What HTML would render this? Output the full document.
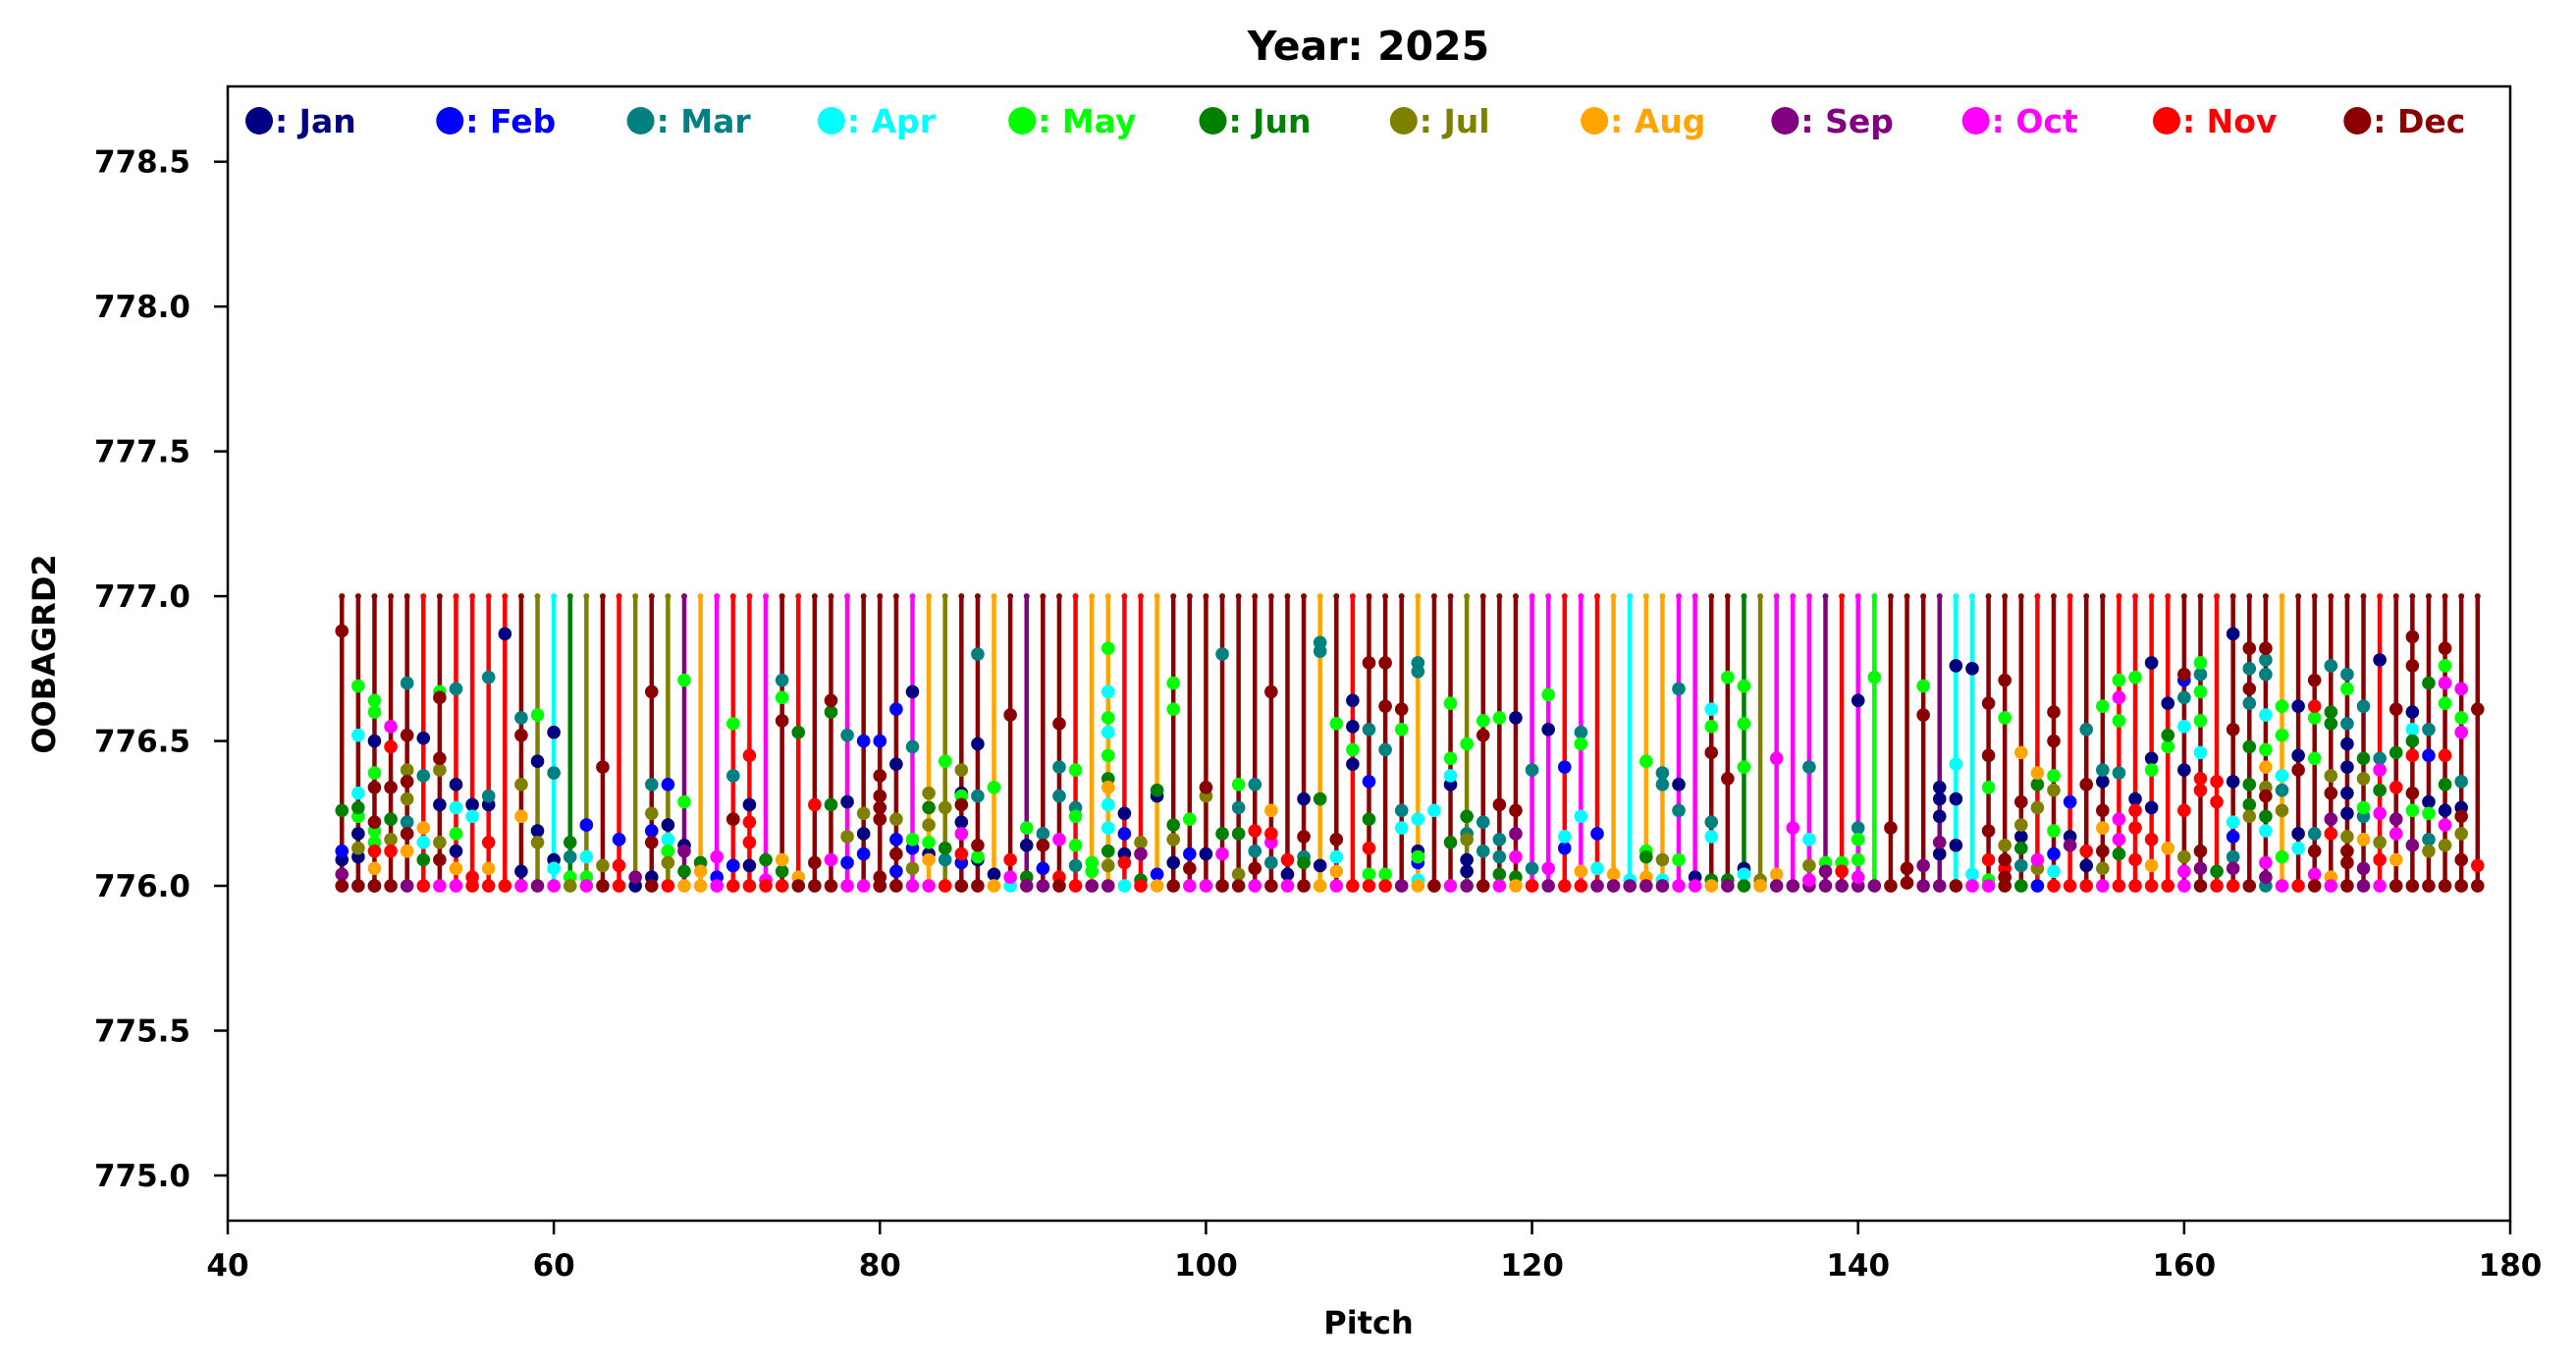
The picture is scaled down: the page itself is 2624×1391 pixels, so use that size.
<!DOCTYPE html>
<html><head><meta charset="utf-8">
<style>
html,body{margin:0;padding:0;background:#fff;}
svg{display:block;font-family:"DejaVu Sans","Liberation Sans",sans-serif;font-weight:bold;}
</style></head>
<body>
<svg id="chart" width="2624" height="1391" viewBox="0 0 2624 1391" xmlns="http://www.w3.org/2000/svg">
<rect width="2624" height="1391" fill="#fff"/>
<text x="1394" y="61" font-size="41" text-anchor="middle" fill="#000">Year: 2025</text>
<text x="1394" y="1358" font-size="32" text-anchor="middle" fill="#000">Pitch</text>
<text transform="translate(56,666) rotate(-90)" font-size="32" text-anchor="middle" fill="#000">OOBAGRD2</text>
<g id="plot"></g>
<g id="axes"></g>
<g id="legend"></g>
</svg>
<script>
const monthNames = ["Jan","Feb","Mar","Apr","May","Jun","Jul","Aug","Sep","Oct","Nov","Dec"];
const monthColors = ["#000080","#0000ff","#008080","#00ffff","#00ff00","#008000","#808000","#ffa500","#800080","#ff00ff","#ff0000","#8b0000"];
const monthCodes = "abcdefghijkl";
const xTicks = [40,60,80,100,120,140,160,180];
const yTicks = [775.0,775.5,776.0,776.5,777.0,777.5,778.0,778.5];
const yTickLabels = ["775.0","775.5","776.0","776.5","777.0","777.5","778.0","778.5"];
const stemLow = 776;
const stemHigh = 777;
const valueBase = 776;
const stemPitch = [47,48,49,50,51,52,53,54,55,56,57,58,59,60,61,62,63,64,65,66,67,68,69,70,71,72,73,74,75,76,77,78,79,
80,81,82,83,84,85,86,87,88,89,90,91,92,93,94,95,96,97,98,99,100,101,102,103,104,105,106,107,108,109,110,111,112,
113,114,115,116,117,118,119,120,121,122,123,124,125,126,127,128,129,130,131,132,133,134,135,136,137,138,139,140,141,142,143,144,145,
146,147,148,149,150,151,152,153,154,155,156,157,158,159,160,161,162,163,164,165,166,167,168,169,170,171,172,173,174,175,176,177,178];
const stemMonth = ("lllllklkkkklgdfglkglgihjkkjlklljl"+"lljhgllhlillkhhkkhlllllllllhlklll"+"hllglllj"+"jkjkhdhhjjllfgjjjikjellli"+"ddlllklkllkkkkllklllhlllllkllllll").split("");
const dotMonths = ["lfbail","eddfeagal","eeaelleekhll","jklfgkl","clglgclhi","achdfk","ellgaglj","cadeahj","adkk","ccakhk","ak","clghaj","eaagi","acadj","fceg","bdej","lgl","bkk","ia","lcgblal","badegk","eeaifh","fhh","jbj","eclkabk","kakkak","fjk","celhfk","fhl","kll","lffjl","cagbj","bgabj",
"blllllli","bagblbl","acebgj","gfgeahj","egfck","gaelajkbl","caclea","eah","lkjd","eafi","clbi","lccjkl","eceeck","eei","ededefhddfgi","abakd","gifk","fabh","eefgal","eblj","lgaj","cfjl","ecfgl","ckclj","lhkjcl","kaj","alcfl","ccfah","eldhj","aaeak","lcbfkek","llcek","lecdi",
"ccdaebdh","dl","eedafj","efcgaai","elccl","elccfj","alijfh","cck","eaji","bdbk","cedhk","bdi","hi","di","eefhi","ccgdi","cacej","aj","delcdfh","elfi","eeeadf","gh","jhi","ji","cdgji","eii","eki","aceeji","ei","ll","ll","elii","aaaiai",
"adaal","adj","llelkej","leglkll","hlgafcf","hfgjgb","llegebdk","baik","clkak","ecalhlgj","ejecjjfk","eakkkk","aaeakhk","afehk","lbcdakgjj","eceedkklil","kkfk","aladbcik","lclcfffgl","lccdehglfdjic","eedcgej","aaladk","lkeeclj"+"l","cffglikhj","cecaaaaglll","cfgechii","acjfjgkj","lfkijhl","lladfkle"+"il","fcbaecgl","lejekfajgl","jejcalgll","lkl"];
const dotValues = [[88,26,12,9,4,0],[69,52,32,27,24,18,13,10,0],[64,60,50,39,34,22,19,15,12,6,0,0],[55,48,34,23,16,12,0],[70,52,40,36,30,22,18,12,0],[51,38,20,15,9,0],[67,65,44,40,28,15,9,0],[68,35,27,18,12,6,0],[28,24,3,0],[72,31,28,15,6,0],[87,0],[58,52,35,24,5,0],[59,43,19,15,0],[53,39,9,6,0],[15,10,3,0],[21,10,3,0],[41,7,0],[16,7,0],[3,0],[67,35,25,19,15,3,0],[35,21,16,12,8,0],[71,29,14,12,5,0],[8,5,0],[10,3,0],[56,38,23,23,7,7,0],[45,28,22,15,7,0],[9,2,0],[71,65,57,9,5,0],[53,3,0],[28,8,0],[64,60,28,9,0],[52,29,17,8,0],[50,25,18,11,0],
[50,38,31,27,23,3,0,0],[61,42,23,16,11,5,0],[67,48,16,13,6,0],[32,27,21,15,11,9,0],[43,27,13,9,0],[40,32,31,28,22,18,11,8,0],[80,49,31,14,10,9,0],[34,4,0],[59,9,3,0],[20,14,3,0],[18,14,6,0],[56,41,31,16,3,0],[40,27,24,14,7,0],[8,5,0],[82,67,58,53,45,37,34,28,20,12,7,0],[25,18,11,8,0],[15,11,2,0],[33,31,4,0],[70,61,21,16,8,0],[23,11,6,0],[34,31,11,0],[80,18,11,0],[35,27,18,4,0],[35,19,12,6,0],[67,26,18,15,8,0],[9,4,0],[30,17,10,8,0],[84,81,30,7,0],[56,16,10,5,0],[64,55,47,42,0],[77,54,36,23,13,4,0],[77,62,47,4,0],[61,54,26,20,0],
[77,74,23,12,10,8,2,0],[26,0],[63,44,38,35,15,0],[49,24,18,16,9,5,0],[57,52,22,12,0],[58,28,16,10,4,0],[58,26,18,10,3,0],[40,6,0],[66,54,6,0],[41,17,13,0],[53,49,24,5,0],[18,6,0],[4,0],[2,0],[43,12,10,3,0],[39,35,9,2,0],[68,35,26,9,0],[3,0],[61,55,46,22,17,2,0],[72,37,2,0],[69,56,41,6,4,0],[2,0],[44,4,0],[20,0],[41,16,7,2,0],[8,5,0],[8,5,0],[64,20,16,9,3,0],[72,0],[20,0],[6,1],[69,59,7,0],[34,30,24,15,11,0],
[76,42,30,14,0],[75,4,0],[63,45,34,19,9,2,0],[71,58,14,9,6,3,0],[46,29,21,17,13,7,0],[39,35,27,9,6,0],[60,50,38,33,19,11,5,0],[29,17,14,0],[54,35,12,7,0],[62,40,36,26,20,12,6,0],[71,65,57,39,23,16,11,0],[72,30,26,20,9,0],[77,44,40,27,16,7,0],[63,52,48,13,0],[73,71,65,55,40,26,10,5,0],[77,73,67,57,46,37,33,12,6,0],[36,29,5,0],[87,54,36,22,17,10,6,0],[82,75,68,63,48,35,28,24,0],[82,78,73,59,47,41,34,31,24,19,8,3,0],[62,52,38,33,26,10,0],[62,45,40,18,13,0],[71,62,58,44,18,12,4,0],[76,60,56,38,32,23,18,3,0],[73,68,56,49,41,32,25,17,12,8,0],[62,44,37,27,24,16,6,0],[78,44,40,33,25,15,9,0],[61,46,34,23,18,9,0],[86,76,60,54,50,45,32,26,14,0],[70,54,45,29,25,16,12,0],[82,76,70,63,45,35,26,21,14,0],[68,58,53,36,27,24,18,9,0],[61,7,0]];

const NS = "http://www.w3.org/2000/svg";
const L = 232, R = 2557, T = 88, B = 1243;
const xMin = 40, xMax = 180, yMin = 774.844, yMax = 778.76;
function xs(v){ return L + (v - xMin) / (xMax - xMin) * (R - L); }
function ys(v){ return B - (v - yMin) / (yMax - yMin) * (B - T); }
function mk(tag, attrs, parent){ const e = document.createElementNS(NS, tag); for (const k in attrs) e.setAttribute(k, attrs[k]); parent.appendChild(e); return e; }

const plot = document.getElementById("plot");
const axes = document.getElementById("axes");
const legend = document.getElementById("legend");

stemPitch.forEach((p, i) => {
  const m = monthCodes.indexOf(stemMonth[i]);
  const col = monthColors[m < 0 ? 11 : m];
  const ln = mk("line", {x1: xs(p), x2: xs(p), y1: ys(stemLow), y2: ys(stemHigh), stroke: col, "stroke-width": 4.5}, plot);
  
  
  const cap = mk("circle", {cx: xs(p), cy: ys(stemHigh), r: 3, fill: col}, plot);
  
  
});
for (let m = 0; m < 12; m++) {
  stemPitch.forEach((p, i) => {
    const ms = (dotMonths[i] || "").split("");
    const vs = dotValues[i] || [];
    vs.forEach((v, j) => {
      if (monthCodes.indexOf(ms[j] || "l") !== m) return;
      const c = mk("circle", {cx: xs(p), cy: ys(valueBase + v / 100), r: 6.8, fill: monthColors[m]}, plot);
      
      
    });
  });
}

const frame = mk("rect", {x: L, y: T, width: R - L, height: B - T, fill: "none", stroke: "#000", "stroke-width": 2.5}, axes);



xTicks.forEach(t => {
  const tk = mk("line", {x1: xs(t), x2: xs(t), y1: B, y2: B + 14, stroke: "#000", "stroke-width": 2.5}, axes);
  
  
  const tx = mk("text", {x: xs(t), y: B + 56, "font-size": 31, "text-anchor": "middle", fill: "#000"}, axes);
  tx.textContent = String(t);
  
  
});
yTicks.forEach((t, i) => {
  const tk = mk("line", {x1: L - 14, x2: L, y1: ys(t), y2: ys(t), stroke: "#000", "stroke-width": 2.5}, axes);
  
  
  const tx = mk("text", {x: L - 38, y: ys(t) + 11, "font-size": 31, "text-anchor": "end", fill: "#000"}, axes);
  tx.textContent = yTickLabels[i];
  
  
});

monthNames.forEach((n, i) => {
  const x0 = 264 + i * 194.3;
  const g = mk("g", {}, legend);
  
  
  mk("circle", {cx: x0, cy: 123, r: 14, fill: monthColors[i]}, g);
  const tx = mk("text", {x: x0 + 16, y: 135, "font-size": 33, fill: monthColors[i]}, g);
  tx.textContent = ": " + n;
});
</script>
</body></html>
